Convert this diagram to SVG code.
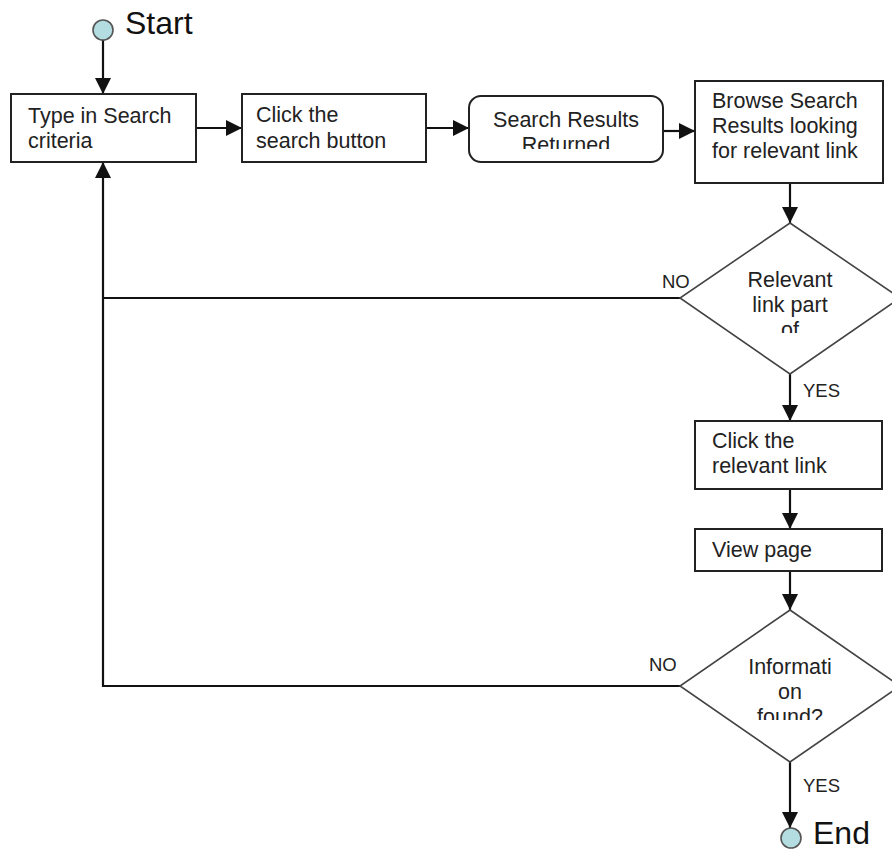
<svg xmlns="http://www.w3.org/2000/svg" width="892" height="850" viewBox="0 0 892 850">
<style>
.box{fill:#fff;stroke:#222;stroke-width:2}
.dia{fill:#fff;stroke:#444;stroke-width:1.6}
.t{font-family:"Liberation Sans",Arial,sans-serif;font-size:21.5px;fill:#222}
.c{text-anchor:middle}
.lbl{font-family:"Liberation Sans",Arial,sans-serif;font-size:18.5px;fill:#222}
.big{font-family:"Liberation Sans",Arial,sans-serif;font-size:32px;fill:#111}
.term{fill:#b4dde2;stroke:#555;stroke-width:1.6}
.ln{fill:none;stroke:#111;stroke-width:2.2}
</style>
<defs>
<marker id="ah" markerUnits="userSpaceOnUse" markerWidth="18" markerHeight="16" refX="16" refY="8" orient="auto">
<path d="M0,0 L16,8 L0,16 Z" fill="#111"/>
</marker>
<clipPath id="c3"><rect x="469" y="96" width="194" height="53"/></clipPath>
<clipPath id="cd1"><rect x="680" y="223" width="220" height="110"/></clipPath>
<clipPath id="cd2"><rect x="680" y="610" width="220" height="110"/></clipPath>
</defs>
<g id="connectors">
<path class="ln" d="M103,40 V94" marker-end="url(#ah)"/>
<path class="ln" d="M196,128 H242" marker-end="url(#ah)"/>
<path class="ln" d="M426,128 H469" marker-end="url(#ah)"/>
<path class="ln" d="M663,131 H695" marker-end="url(#ah)"/>
<path class="ln" d="M790,183 V223" marker-end="url(#ah)"/>
<path class="ln" d="M680,298 H103" />
<path class="ln" d="M680,686 H103 V162" marker-end="url(#ah)"/>
<path class="ln" d="M790,374 V421" marker-end="url(#ah)"/>
<path class="ln" d="M790,489 V529" marker-end="url(#ah)"/>
<path class="ln" d="M790,571 V610" marker-end="url(#ah)"/>
<path class="ln" d="M790,762 V828" marker-end="url(#ah)"/>
<text class="lbl" x="662" y="288">NO</text>
<text class="lbl" x="803" y="397">YES</text>
<text class="lbl" x="649" y="671">NO</text>
<text class="lbl" x="803" y="792">YES</text>
</g>
<g id="start">
<circle class="term" cx="103" cy="30" r="10"/>
<text class="big" x="125" y="34">Start</text>
</g>
<g id="type-criteria">
<rect class="box" x="11" y="94" width="185" height="68"/>
<text class="t" x="28" y="123">Type in Search</text>
<text class="t" x="28" y="148">criteria</text>
</g>
<g id="click-search">
<rect class="box" x="242" y="94" width="184" height="68"/>
<text class="t" x="256" y="122">Click the</text>
<text class="t" x="256" y="148">search button</text>
</g>
<g id="results-returned">
<rect class="box" x="469" y="96" width="194" height="66" rx="12" ry="12"/>
<g clip-path="url(#c3)">
<text class="t c" x="566" y="127">Search Results</text>
<text class="t c" x="566" y="152">Returned</text>
</g>
</g>
<g id="browse-results">
<rect class="box" x="695" y="81" width="188" height="102"/>
<text class="t" x="712" y="108">Browse Search</text>
<text class="t" x="712" y="133">Results looking</text>
<text class="t" x="712" y="158">for relevant link</text>
</g>
<g id="relevant-decision">
<polygon class="dia" points="790,223 900,298 790,374 680,298"/>
<g clip-path="url(#cd1)">
<text class="t c" x="790" y="287">Relevant</text>
<text class="t c" x="790" y="312">link part</text>
<text class="t c" x="790" y="337">of</text>
</g>
</g>
<g id="click-link">
<rect class="box" x="695" y="421" width="187" height="68"/>
<text class="t" x="712" y="448">Click the</text>
<text class="t" x="712" y="473">relevant link</text>
</g>
<g id="view-page">
<rect class="box" x="695" y="529" width="187" height="42"/>
<text class="t" x="712" y="557">View page</text>
</g>
<g id="info-decision">
<polygon class="dia" points="790,610 900,686 790,762 680,686"/>
<g clip-path="url(#cd2)">
<text class="t c" x="790" y="674">Informati</text>
<text class="t c" x="790" y="699">on</text>
<text class="t c" x="790" y="724">found?</text>
</g>
</g>
<g id="end">
<circle class="term" cx="791" cy="838" r="10"/>
<text class="big" x="813" y="844" font-size="30">End</text>
</g>
</svg>
